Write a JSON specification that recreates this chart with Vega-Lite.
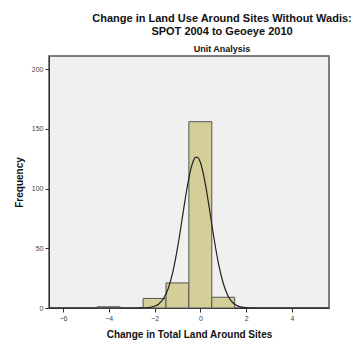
{
  "$schema": "https://vega.github.io/schema/vega-lite/v6.json",
  "autosize": {"type": "none"},
  "padding": {"left": 49, "top": 56, "right": 33, "bottom": 34},
  "width": 280,
  "height": 252,
  "background": "white",
  "config": {
    "font": "Liberation Sans",
    "view": {"fill": "#f0f0f0", "stroke": "#555555", "strokeWidth": 1.5},
    "axis": {"grid": false, "domainColor": "#333333", "tickColor": "#333333", "labelColor": "#444444", "labelFontSize": 7, "tickSize": 4, "titleFontSize": 10, "titleFontWeight": "bold", "titleColor": "#111111", "labelFont": "Liberation Sans"}
  },
  "title": {
    "text": ["Change in Land Use Around Sites Without Wadis:", "SPOT 2004 to Geoeye 2010"],
    "subtitle": "Unit Analysis",
    "fontSize": 11,
    "fontWeight": "bold",
    "lineHeight": 13,
    "color": "#111111",
    "subtitleFontSize": 9,
    "subtitleFontWeight": "bold",
    "subtitleColor": "#111111",
    "subtitlePadding": 8,
    "anchor": "middle",
    "dx": 33,
    "offset": 2
  },
  "datasets": {
    "bars": [
      {"lo": -4.5, "hi": -3.5, "count": 1},
      {"lo": -2.5, "hi": -1.5, "count": 8},
      {"lo": -1.5, "hi": -0.5, "count": 21},
      {"lo": -0.5, "hi": 0.5, "count": 156},
      {"lo": 0.5, "hi": 1.5, "count": 9}
    ],
    "curve": [
      {"x": -6.6, "y": 0}, {"x": -3.0, "y": 0.003}, {"x": -2.6, "y": 0.05}, {"x": -2.4, "y": 0.16},
      {"x": -2.2, "y": 0.51}, {"x": -2.0, "y": 1.42}, {"x": -1.8, "y": 3.58}, {"x": -1.6, "y": 8.12},
      {"x": -1.4, "y": 16.55}, {"x": -1.2, "y": 30.3}, {"x": -1.0, "y": 49.9}, {"x": -0.8, "y": 73.9},
      {"x": -0.6, "y": 98.3}, {"x": -0.4, "y": 117.5}, {"x": -0.3, "y": 123.5}, {"x": -0.2, "y": 126.3},
      {"x": -0.1, "y": 125.8}, {"x": 0.0, "y": 122.0}, {"x": 0.2, "y": 105.9}, {"x": 0.4, "y": 82.7},
      {"x": 0.6, "y": 58.0}, {"x": 0.8, "y": 36.5}, {"x": 1.0, "y": 20.7}, {"x": 1.2, "y": 10.55},
      {"x": 1.4, "y": 4.82}, {"x": 1.6, "y": 1.99}, {"x": 1.8, "y": 0.73}, {"x": 2.0, "y": 0.24},
      {"x": 2.2, "y": 0.07}, {"x": 2.6, "y": 0.005}, {"x": 5.6, "y": 0}
    ]
  },
  "layer": [
    {
      "data": {"name": "bars"},
      "mark": {"type": "rect", "fill": "#d4cf98", "stroke": "#555555", "strokeWidth": 1},
      "encoding": {
        "x": {"field": "lo", "type": "quantitative", "scale": {"domain": [-6.61, 5.62], "nice": false, "zero": false}, "axis": {"values": [-6, -4, -2, 0, 2, 4], "title": "Change in Total Land Around Sites", "titlePadding": 8}},
        "x2": {"field": "hi"},
        "y": {"field": "count", "type": "quantitative", "scale": {"domain": [0, 211], "nice": false}, "axis": {"values": [0, 50, 100, 150, 200], "title": "Frequency", "titlePadding": 7}},
        "y2": {"datum": 0}
      }
    },
    {
      "data": {"name": "curve"},
      "mark": {"type": "line", "color": "#222222", "strokeWidth": 1.2, "interpolate": "monotone", "clip": true},
      "encoding": {
        "x": {"field": "x", "type": "quantitative"},
        "y": {"field": "y", "type": "quantitative"}
      }
    }
  ]
}
